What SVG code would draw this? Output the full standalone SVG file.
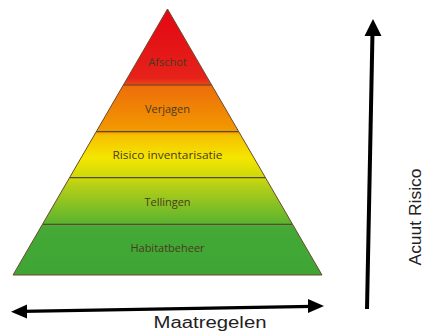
<svg xmlns="http://www.w3.org/2000/svg" width="429" height="335" viewBox="0 0 429 335">
<defs>
<linearGradient id="pg" x1="0" y1="9" x2="0" y2="275" gradientUnits="userSpaceOnUse">
<stop offset="0" stop-color="#e30613"/>
<stop offset="0.26" stop-color="#e6221a"/>
<stop offset="0.285" stop-color="#ea4a16"/>
<stop offset="0.29" stop-color="#ee6e0a"/>
<stop offset="0.46" stop-color="#f29a00"/>
<stop offset="0.475" stop-color="#f6c000"/>
<stop offset="0.56" stop-color="#f4e600"/>
<stop offset="0.64" stop-color="#c9d80c"/>
<stop offset="0.66" stop-color="#b8d016"/>
<stop offset="0.8" stop-color="#5fb52e"/>
<stop offset="0.82" stop-color="#44a935"/>
<stop offset="1" stop-color="#3ea535"/>
</linearGradient>
<style>
.lbl{font-family:"Open Sans","DejaVu Sans",sans-serif;font-size:11px;fill:#4a3a20;text-anchor:middle}
.sep{stroke:#5a4a30;stroke-width:1.2;fill:none}
.ax{font-family:"Liberation Sans",Arial,sans-serif;font-size:16px;fill:#222;text-anchor:middle}
</style>
</defs>
<g id="pyramid">
<polygon points="167.5,9 13,275 322,275" fill="url(#pg)" stroke="#6a4a30" stroke-width="1"/>
<line class="sep" x1="123.5" y1="85" x2="211.5" y2="85"/>
<line class="sep" x1="96.5" y1="131.7" x2="238.5" y2="131.7"/>
<line class="sep" x1="70" y1="177.7" x2="265" y2="177.7"/>
<line class="sep" x1="43" y1="224.3" x2="292" y2="224.3"/>
</g>
<g id="afschot"><text class="lbl" x="167.5" y="66">Afschot</text></g>
<g id="verjagen"><text class="lbl" x="167.5" y="113">Verjagen</text></g>
<g id="risico"><text class="lbl" x="167.5" y="159" textLength="110" lengthAdjust="spacingAndGlyphs">Risico inventarisatie</text></g>
<g id="tellingen"><text class="lbl" x="167.5" y="206">Tellingen</text></g>
<g id="habitatbeheer"><text class="lbl" x="167.5" y="252">Habitatbeheer</text></g>
<g id="connectors">
<line x1="22" y1="311.3" x2="313" y2="306.4" stroke="#000" stroke-width="3.2"/>
<polygon points="11,311.7 27,304.5 27,318.5" fill="#000"/>
<polygon points="324,306 308,299 308,313" fill="#000"/>
<line x1="367" y1="309" x2="372.5" y2="32" stroke="#000" stroke-width="4"/>
<polygon points="373,19 381.5,36 364.5,36" fill="#000"/>
</g>
<g id="maatregelen"><text class="ax" x="210" y="328" textLength="113" lengthAdjust="spacingAndGlyphs">Maatregelen</text></g>
<g id="acuut"><text class="ax" transform="translate(421,217) rotate(-90)" x="0" y="0" textLength="97" lengthAdjust="spacingAndGlyphs">Acuut Risico</text></g>
</svg>
